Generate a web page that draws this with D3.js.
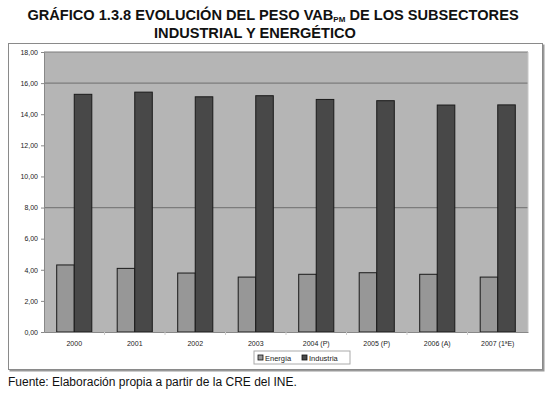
<!DOCTYPE html>
<html>
<head>
<meta charset="utf-8">
<script src="https://cdn.jsdelivr.net/npm/d3@7"></script>
<style>
  body { margin: 0; background: #fff; }
  text { font-family: "Liberation Sans", Arial, sans-serif; }
</style>
</head>
<body>
<svg id="chart"></svg>
<script>
var width = 550, height = 394;

// data
var years = ["2000", "2001", "2002", "2003", "2004 (P)", "2005 (P)", "2006 (A)", "2007 (1ªE)"];
var energia = [4.31, 4.09, 3.79, 3.53, 3.71, 3.81, 3.71, 3.53];
var industria = [15.28, 15.42, 15.12, 15.19, 14.95, 14.87, 14.59, 14.60];
var seriesNames = ["Energía", "Industria"];
var seriesColors = ["#979797", "#484848"];
var yTicks = [0, 2, 4, 6, 8, 10, 12, 14, 16, 18];

var svg = d3.select("#chart")
    .attr("width", width)
    .attr("height", height);

// title
var title = svg.append("text")
    .attr("x", 273)
    .attr("y", 20)
    .attr("text-anchor", "middle")
    .style("font-size", "14.6px")
    .style("font-weight", "bold")
    .attr("fill", "#111");
title.append("tspan").text("GRÁFICO 1.3.8 EVOLUCIÓN DEL PESO VAB");
title.append("tspan").text("PM").style("font-size", "8px").attr("dy", 2);
title.append("tspan").text(" DE LOS SUBSECTORES").attr("dy", -2);

svg.append("text")
    .attr("x", 255)
    .attr("y", 38)
    .attr("text-anchor", "middle")
    .style("font-size", "14.6px")
    .style("font-weight", "bold")
    .attr("fill", "#111")
    .text("INDUSTRIAL Y ENERGÉTICO");

// outer frame with a small shadow
svg.append("rect")
    .attr("x", 9.5).attr("y", 44.5)
    .attr("width", 535).attr("height", 327)
    .attr("fill", "#999");
svg.append("rect")
    .attr("x", 8.5).attr("y", 43.5)
    .attr("width", 534).attr("height", 326)
    .attr("fill", "#fff")
    .attr("stroke", "#8a8a8a");

var plot = { left: 44, right: 528, top: 52, bottom: 332 };

var x = d3.scaleBand()
    .domain(years)
    .range([plot.left, plot.right])
    .paddingInner(0.42)
    .paddingOuter(0.21);

var xSub = d3.scaleBand()
    .domain(seriesNames)
    .range([0, x.bandwidth()]);

var y = d3.scaleLinear()
    .domain([0, 18])
    .range([plot.bottom, plot.top]);

// plot background
svg.append("rect")
    .attr("x", plot.left).attr("y", plot.top)
    .attr("width", plot.right - plot.left)
    .attr("height", plot.bottom - plot.top)
    .attr("fill", "#b5b5b5");

// grid lines at 8 and 16 (as in the picture) and the top edge
svg.selectAll("line.grid")
    .data([8, 16, 18])
    .enter().append("line")
    .attr("class", "grid")
    .attr("x1", plot.left).attr("x2", plot.right)
    .attr("y1", function(d) { return y(d); })
    .attr("y2", function(d) { return y(d); })
    .attr("stroke", "#7c7c7c")
    .attr("stroke-width", 1.2);

// right edge of plot
svg.append("line")
    .attr("x1", plot.right).attr("x2", plot.right)
    .attr("y1", plot.top).attr("y2", plot.bottom)
    .attr("stroke", "#c8c8c8");

// bars
var rows = years.map(function(d, i) {
    return { year: d, values: [energia[i], industria[i]] };
});

var groups = svg.selectAll("g.year")
    .data(rows)
    .enter().append("g")
    .attr("class", "year")
    .attr("transform", function(d) { return "translate(" + x(d.year) + ",0)"; });

groups.selectAll("rect")
    .data(function(d) {
        return d.values.map(function(v, j) { return { name: seriesNames[j], value: v, idx: j }; });
    })
    .enter().append("rect")
    .attr("x", function(d) { return xSub(d.name); })
    .attr("y", function(d) { return y(d.value); })
    .attr("width", xSub.bandwidth())
    .attr("height", function(d) { return y(0) - y(d.value); })
    .attr("fill", function(d) { return seriesColors[d.idx]; })
    .attr("stroke", "#1a1a1a")
    .attr("stroke-width", 1);

// y axis
var yAxis = d3.axisLeft(y)
    .tickValues(yTicks)
    .tickSize(3)
    .tickFormat(function(d) { return d3.format(".2f")(d).replace(".", ","); });

var yg = svg.append("g")
    .attr("transform", "translate(" + plot.left + ",0)")
    .call(yAxis);
yg.select(".domain").attr("stroke", "#888");
yg.selectAll(".tick line").attr("stroke", "#888");
yg.selectAll(".tick text")
    .style("font-size", "7px")
    .attr("fill", "#222")
    .attr("x", -6);

// x axis
var xAxis = d3.axisBottom(x).tickSize(0).tickPadding(9);
var xg = svg.append("g")
    .attr("transform", "translate(0," + plot.bottom + ")")
    .call(xAxis);
xg.select(".domain").attr("stroke", "#888");
xg.selectAll(".tick text")
    .style("font-size", "7px")
    .attr("fill", "#222");

// small category separators below the axis
svg.selectAll("line.sep")
    .data(years.slice(1))
    .enter().append("line")
    .attr("class", "sep")
    .attr("x1", function(d) { return x(d) - x.step() * x.paddingInner() / 2; })
    .attr("x2", function(d) { return x(d) - x.step() * x.paddingInner() / 2; })
    .attr("y1", plot.bottom).attr("y2", plot.bottom + 3)
    .attr("stroke", "#ccc");

// legend
var legend = svg.append("g").attr("transform", "translate(254,351)");
legend.append("rect")
    .attr("width", 96).attr("height", 13)
    .attr("fill", "#fff")
    .attr("stroke", "#aaa");

var items = legend.selectAll("g.item")
    .data(seriesNames)
    .enter().append("g")
    .attr("class", "item")
    .attr("transform", function(d, i) { return "translate(" + (4 + i * 44) + ",0)"; });

items.append("rect")
    .attr("x", 0).attr("y", 4)
    .attr("width", 5).attr("height", 5)
    .attr("fill", function(d, i) { return seriesColors[i]; })
    .attr("stroke", "#111")
    .attr("stroke-width", 0.8);

items.append("text")
    .attr("x", 7).attr("y", 9.5)
    .style("font-size", "7.5px")
    .attr("fill", "#222")
    .text(function(d) { return d; });

// source
svg.append("text")
    .attr("x", 8)
    .attr("y", 386)
    .style("font-size", "12px")
    .attr("fill", "#111")
    .text("Fuente: Elaboración propia a partir de la CRE del INE.");
</script>
</body>
</html>
